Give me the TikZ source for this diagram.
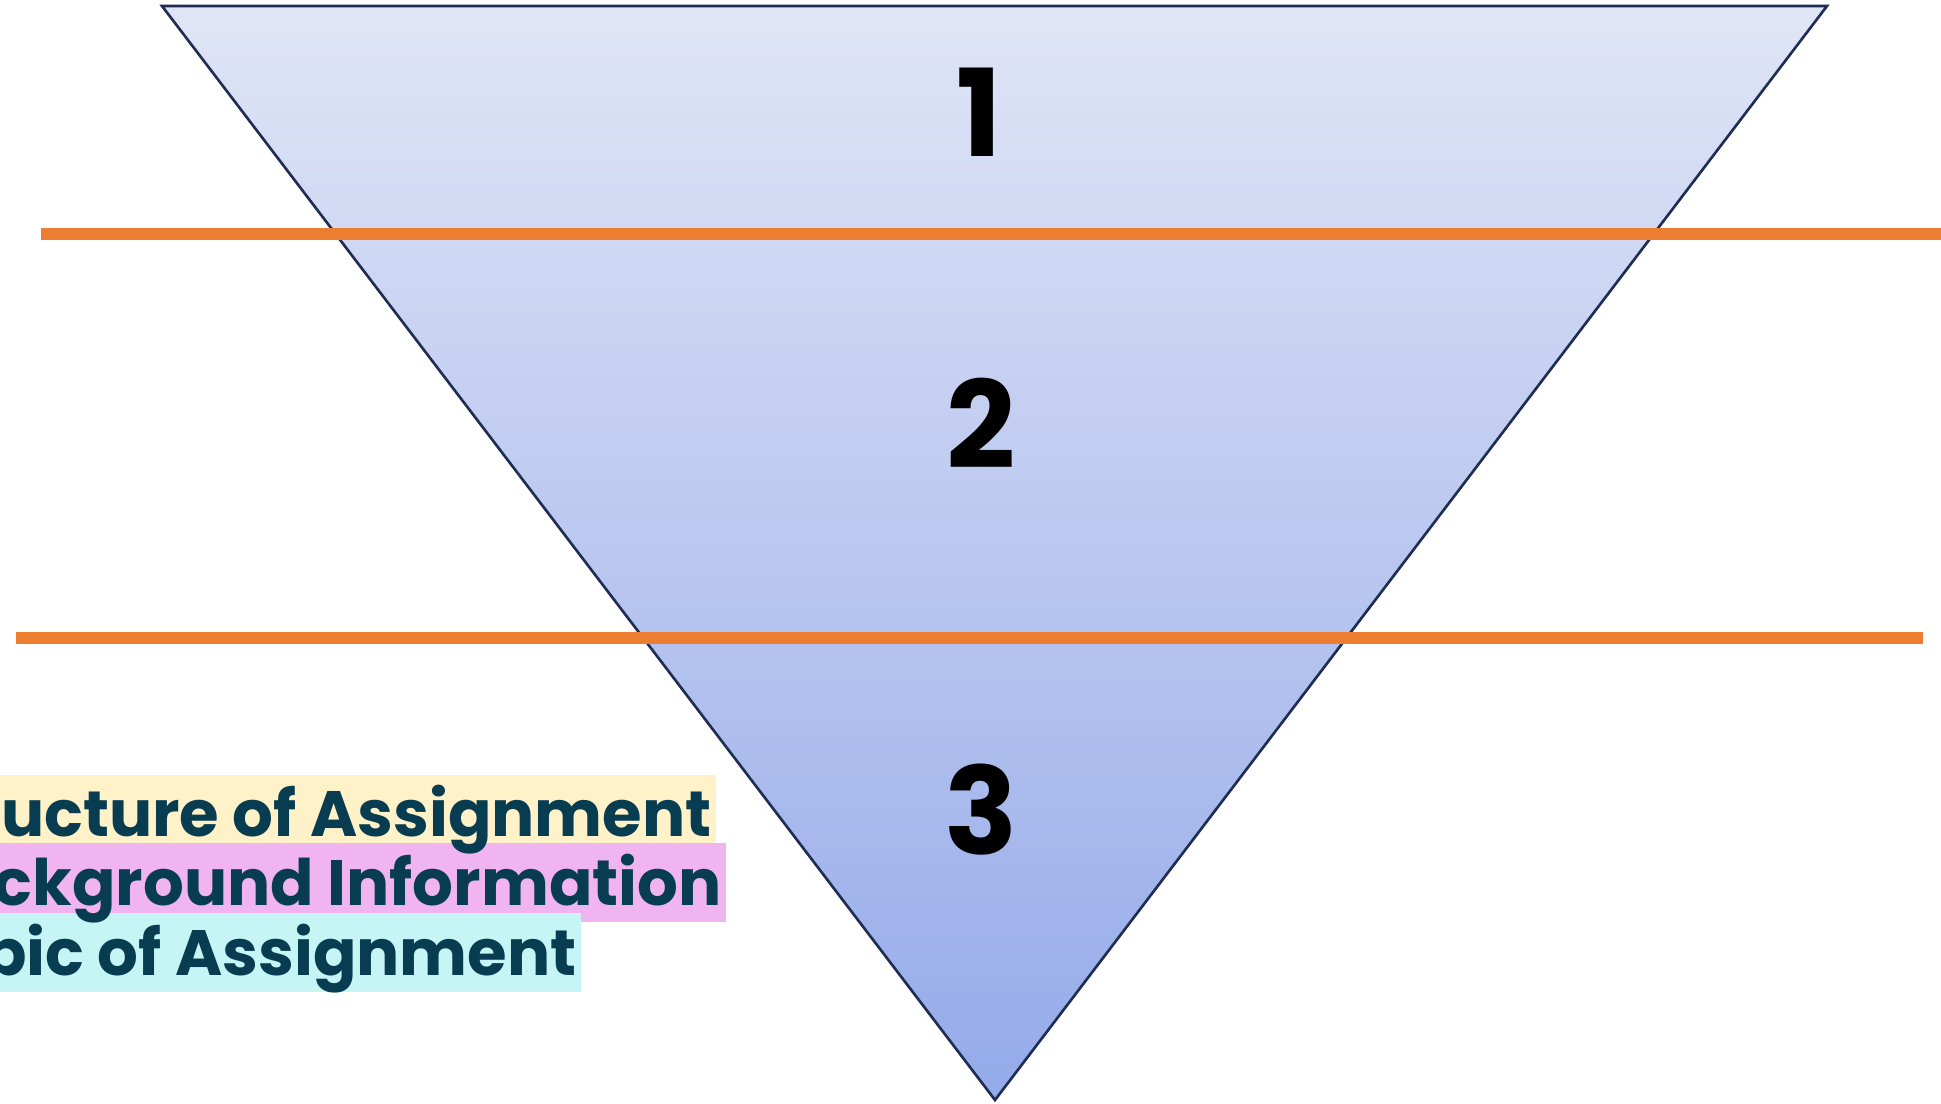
\documentclass[tikz,border=0pt]{standalone}
\usepackage{fontspec}
\setmainfont{Poppins}
\usepackage{tikz}
\definecolor{funnelline}{RGB}{31, 45, 84}
\definecolor{funneltop}{RGB}{224, 229, 246}
\definecolor{funnelbottom}{RGB}{148, 170, 233}
\definecolor{cutorange}{RGB}{237, 125, 49}
\definecolor{labelteal}{RGB}{8, 60, 80}
\definecolor{hlyellow}{RGB}{255, 241, 200}
\definecolor{hlpink}{RGB}{240, 180, 240}
\definecolor{hlcyan}{RGB}{198, 245, 245}

\begin{document}
\begin{tikzpicture}[x=0.02cm, y=-0.02cm,
    level/.style={inner sep=0pt, font=\fontsize{69}{70}\selectfont\bfseries, text=black},
    label/.style={inner sep=0pt, anchor=base east, font=\fontsize{36.5}{40}\selectfont\bfseries, text=labelteal},
    cut/.style={cutorange, line width=6.8pt}
]
\useasboundingbox (0,0) rectangle (1941,1104);
\clip (0,0) rectangle (1941,1104);

% Funnel
\shade[top color=funneltop, bottom color=funnelbottom] (162,6) -- (1827,6) -- (995,1100) -- cycle;
\draw[funnelline, line width=1.5pt, line join=miter] (162,6) -- (1827,6) -- (995,1100) -- cycle;

% Cut Lines
\draw[cut] (41,234) -- (1941,234);
\draw[cut] (16,638) -- (1923,638);

% Level Numbers
\node (one)   [level] at (979,112) {1};
\node (two)   [level] at (981,423) {2};
\node (three) [level] at (981,810) {3};

% Highlights
\fill[hlyellow] (-50,775) rectangle (716,843);
\fill[hlpink]   (-50,843) rectangle (726,922);
\fill[hlcyan]   (-50,913) rectangle (581,992);

% Labels
\node (structure)  [label] at (712,836) {Structure of Assignment};
\node (background) [label] at (722,905) {Background Information};
\node (topic)      [label] at (577,975) {Topic of Assignment};

\end{tikzpicture}
\end{document}
